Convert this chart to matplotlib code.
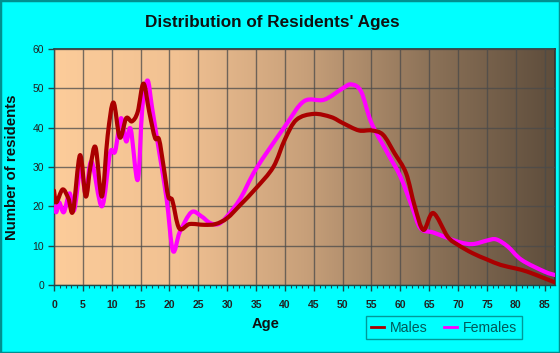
import numpy as np
import matplotlib
matplotlib.use("Agg")
import matplotlib.pyplot as plt
from matplotlib.path import Path
from matplotlib.patches import PathPatch, Rectangle
from matplotlib.lines import Line2D

title = "Distribution of Residents' Ages"
x_label = "Age"
y_label = "Number of residents"
series_names = ["Males", "Females"]
x_ticks = list(range(0, 90, 5))
y_ticks = list(range(0, 70, 10))

male_ages = [0, 0.4, 1.5, 2.5, 3.3, 4.5, 5.5, 6.3, 7.2, 8.3, 9.3, 10.3, 11.4, 12.5, 13.5,
             14.5, 15.5, 16.5, 17.5, 18.2, 19.0, 19.8, 20.5, 21.7, 23.5, 26, 28, 30, 32.3,
             35, 38, 40, 42, 45, 48, 50, 52.8, 55, 57, 59, 61, 62.5, 64, 65.7, 68.2, 70,
             72.5, 75, 77.4, 80, 82, 85, 86.9]
male_vals = [24, 21, 24.3, 22, 18.8, 33, 22.5, 30, 35, 22.5, 38, 46.4, 37.5, 42.4, 41.6,
             44, 51.2, 44, 37.4, 37, 30, 22.5, 21.5, 14.4, 15.5, 15.3, 15.5, 17, 20.4,
             24.6, 30, 37, 42, 43.5, 42.7, 41.2, 39.3, 39.3, 38.2, 33.5, 28.4, 20, 14, 18.3,
             12.3, 10.2, 8.1, 6.5, 5.1, 4.2, 3.4, 1.7, 0.6]

female_ages = [0, 0.4, 0.9, 1.7, 2.7, 3.5, 4.6, 5.5, 6.5, 8.3, 9.7, 10.6, 11.6, 12.5, 13.3,
               14.5, 15.3, 16.2, 17.0, 18.2, 19.5, 20.6, 21.8, 23.8, 25.5, 27, 28.5, 30, 32.3,
               35, 40, 43.3, 46.8, 50, 51.5, 53.2, 55, 57.8, 60, 62, 63.5, 65.8, 70, 72.5,
               75, 76.6, 78.6, 81, 85, 86.9]
female_vals = [20, 18.5, 21, 18.5, 23.3, 19, 29.7, 23.3, 31.4, 20, 33.5, 34, 42.4, 36.5, 39.6,
               26.7, 45, 52, 45, 34, 22, 8.7, 13.5, 18.5, 17.5, 15.8, 15.5, 17.5, 22,
               29.5, 40.3, 46.7, 47.1, 50, 51, 49.2, 41.2, 33.5, 27.6, 20, 14.4, 13.3, 11, 10.4,
               11.3, 11.6, 9.8, 6.4, 3.4, 2.5]

male_color = "#AA0000"
female_color = "#FF00FF"
xmax = 86.8
ymax = 60


def smooth_path(xs, ys):
    pts = np.column_stack([xs, ys]).astype(float)
    n = len(pts)
    verts = [pts[0]]
    codes = [Path.MOVETO]
    for i in range(n - 1):
        p0 = pts[i - 1] if i > 0 else pts[i]
        p1 = pts[i]
        p2 = pts[i + 1]
        p3 = pts[i + 2] if i + 2 < n else pts[i + 1]
        c1 = p1 + (p2 - p0) / 6.0
        c2 = p2 - (p3 - p1) / 6.0
        verts += [c1, c2, p2]
        codes += [Path.CURVE4] * 3
    return Path(verts, codes)


W, H = 560, 353
fig = plt.figure(figsize=(W / 100, H / 100), dpi=100)
fig.patch.set_facecolor("#00FFFF")
fig.patches.append(Rectangle((0, 0), 1, 1, transform=fig.transFigure, fill=False,
                             edgecolor="#009090", lw=2.5))

ax = fig.add_axes([54 / W, (H - 285) / H, 501 / W, 236 / H])

# gradient background
stops = np.array([0, 0.25, 0.5, 0.75, 1.0])
cols = np.array([[252, 204, 154], [241, 193, 146], [200, 160, 122],
                 [140, 114, 88], [94, 77, 60]]) / 255.0
t = np.linspace(0, 1, 400)
grad = np.stack([np.interp(t, stops, cols[:, k]) for k in range(3)], axis=-1)[None, :, :]
ax.imshow(grad, extent=[0, xmax, 0, ymax], aspect="auto", zorder=0, interpolation="bilinear")

ax.set_xlim(0, xmax)
ax.set_ylim(0, ymax)
ax.set_xticks(x_ticks)
ax.set_yticks(y_ticks)
ax.set_xticks(np.arange(0, 87, 1), minor=True)
ax.grid(True, which="major", color="#4a4a4a", lw=1.0, alpha=0.75, zorder=1)
ax.set_axisbelow(False)

fem = PathPatch(smooth_path(female_ages, female_vals), facecolor="none", edgecolor=female_color,
                lw=3.0, zorder=3, capstyle="round", joinstyle="round")
mal = PathPatch(smooth_path(male_ages, male_vals), facecolor="none", edgecolor=male_color,
                lw=3.0, zorder=4, capstyle="round", joinstyle="round")
ax.add_patch(fem)
ax.add_patch(mal)

for s in ["top", "right"]:
    ax.spines[s].set_color("#333333")
    ax.spines[s].set_linewidth(1.2)
for s in ["left", "bottom"]:
    ax.spines[s].set_color("#1a4a4a")
    ax.spines[s].set_linewidth(1.0)

ax.tick_params(axis="both", which="major", length=4, width=1, color="#1a4a4a",
               labelsize=7.5, labelcolor="#222222", pad=3)
ax.tick_params(axis="x", which="minor", length=2.5, width=0.8, color="#1a4a4a")
ax.tick_params(axis="x", which="major", pad=7)
for lbl in ax.get_xticklabels():
    lbl.set_fontweight("bold")
    lbl.set_family("Liberation Sans")
for lbl in ax.get_yticklabels():
    lbl.set_family("Liberation Sans")

fig.text(272 / W, 1 - 22 / H, title, ha="center", va="center", fontsize=12.3,
         fontweight="bold", family="Liberation Sans", color="#111111")
fig.text(12 / W, 1 - 167 / H, y_label, ha="center", va="center", rotation=90,
         fontsize=10.8, fontweight="bold", family="Liberation Sans", color="#111111")
fig.text(266 / W, 1 - 324 / H, x_label, ha="center", va="center", fontsize=10.5,
         fontweight="bold", family="Liberation Sans", color="#111111")

handles = [Line2D([], [], color=male_color, lw=2.0), Line2D([], [], color=female_color, lw=2.0)]
leg = fig.legend(handles, series_names, loc="center", bbox_to_anchor=(444 / W, 1 - 327.5 / H),
                 ncol=2, frameon=True, fancybox=False, handlelength=0.9, handletextpad=0.4,
                 columnspacing=1.2, borderpad=0.35,
                 prop={"family": "Liberation Sans", "size": 10.2})
leg.get_frame().set_facecolor("#00FFFF")
leg.get_frame().set_edgecolor("#008080")
leg.get_frame().set_linewidth(1.0)
for txt in leg.get_texts():
    txt.set_color("#005a5a")

fig.savefig("out.png", dpi=100, facecolor=fig.get_facecolor())
